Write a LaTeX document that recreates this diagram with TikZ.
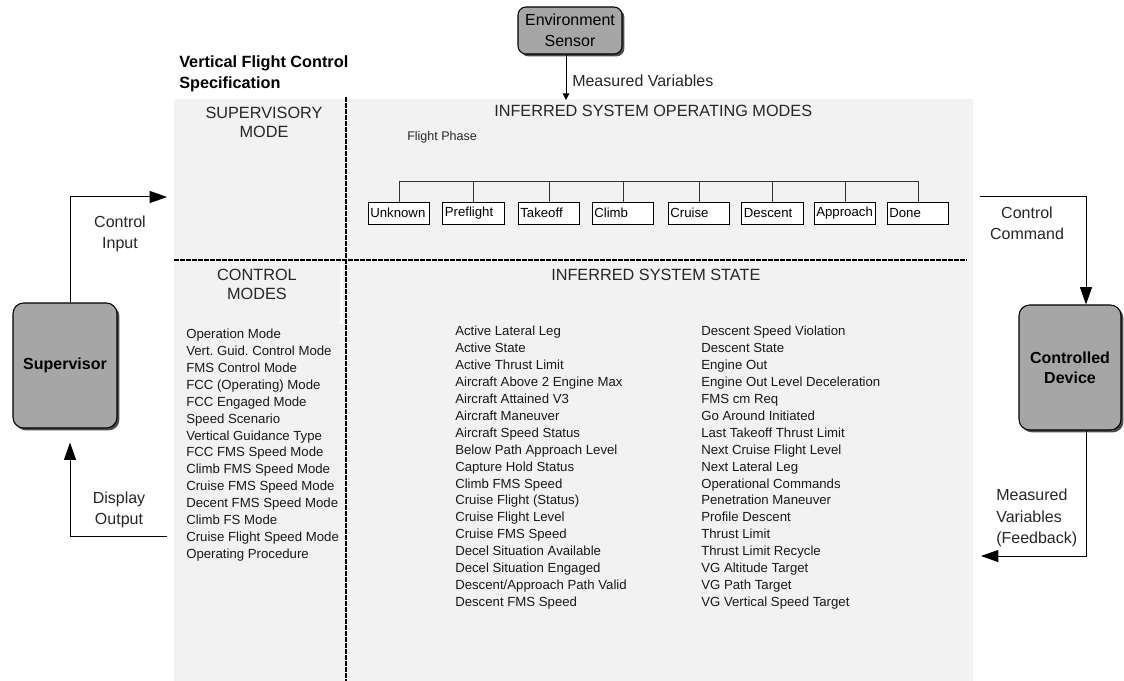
\documentclass[tikz,border=0pt]{standalone}
\usepackage{fontspec}
\setmainfont{Liberation Sans}
\frenchspacing
\usetikzlibrary{arrows.meta,shadows}
\definecolor{panelgray}{HTML}{F2F2F2}
\definecolor{boxgray}{HTML}{A6A6A6}
\tikzset{
  actorbox/.style={draw=black, line width=0.8pt, fill=boxgray, rounded corners=8pt, align=center,
    drop shadow={shadow xshift=1.8pt, shadow yshift=-1.8pt, fill=black!70, opacity=1}},
  phasebox/.style={draw=black, line width=0.75pt, fill=white, minimum height=16.5pt, text width=43pt,
    inner xsep=1.5pt, inner ysep=0pt, align=left, font=\fontsize{9.9}{12}\selectfont},
  listitem/.style={anchor=base west, inner sep=0pt, text=black!90, font=\fontsize{9.9}{12}\selectfont},
  heading/.style={inner sep=0pt, align=center, text=black!85, font=\fontsize{12.2}{14.25}\selectfont},
  flowlabel/.style={inner sep=0pt, align=center, text=black!85, font=\fontsize{12}{16}\selectfont},
  sectionline/.style={line width=1.3pt, dash pattern=on 3.5pt off 1pt},
  bigarrow/.style={line width=0.75pt, -{Triangle[length=13pt,width=9pt]}},
  smallarrow/.style={line width=0.75pt, -{Triangle[length=5pt,width=5pt]}}
}

\begin{document}
\begin{tikzpicture}[x=0.75pt, y=-0.75pt]
		%%%%% START %%%%%
		\useasboundingbox (0,0) rectangle (1124,681);
		
		\fill[panelgray] (174,99) rectangle (973,681);
		\fill[white] (340,262) rectangle (343,324);
		\draw[sectionline] (346,97) -- (346,681);
		\draw[sectionline] (174,260) -- (967,260);
		
		\node[anchor=base west, inner sep=0pt, font=\bfseries\fontsize{12.2}{15}\selectfont] (title1) at (179,68) {Vertical Flight Control};
		\node[anchor=base west, inner sep=0pt, font=\bfseries\fontsize{12.2}{15}\selectfont] (title2) at (179,89) {Specification};
		
		\node[heading] (supmode) at (264,122) {SUPERVISORY\\MODE};
		\node[heading] (ctlmodes) at (257,284) {CONTROL\\MODES};
		\node[heading, anchor=base west] (opmodes) at (494,117) {INFERRED SYSTEM OPERATING MODES};
		\node[heading, anchor=base west] (sysstate) at (551,280) {INFERRED SYSTEM STATE};
		\node[anchor=base west, inner sep=0pt, text=black!85, font=\fontsize{9.4}{11}\selectfont] (phaselabel) at (407,140.5) {Flight Phase};
		
		% flight phase tree
		\coordinate (phasebus) at (658,182);
		\node[phasebox] (unknown) at (399,213) {Unknown};
		\node[phasebox] (preflight) at (473.5,213) {Preflight};
		\node[phasebox] (takeoff) at (549,213) {Takeoff};
		\node[phasebox] (climb) at (623,213) {Climb};
		\node[phasebox] (cruise) at (699,213) {Cruise};
		\node[phasebox] (descent) at (772.5,213) {Descent};
		\node[phasebox] (approach) at (845,213) {Approach};
		\node[phasebox] (done) at (918,213) {Done};
		\draw[line width=0.75pt, color=black!80] (unknown.north) -- (unknown.north |- phasebus) -- (done.north |- phasebus) -- (done.north);
		\draw[line width=0.75pt, color=black!80] (preflight.north) -- (preflight.north |- phasebus);
		\draw[line width=0.75pt, color=black!80] (takeoff.north) -- (takeoff.north |- phasebus);
		\draw[line width=0.75pt, color=black!80] (climb.north) -- (climb.north |- phasebus);
		\draw[line width=0.75pt, color=black!80] (cruise.north) -- (cruise.north |- phasebus);
		\draw[line width=0.75pt, color=black!80] (descent.north) -- (descent.north |- phasebus);
		\draw[line width=0.75pt, color=black!80] (approach.north) -- (approach.north |- phasebus);
		
		% control modes
		\node[listitem] (cm1) at (186,338.5) {Operation Mode};
		\node[listitem] (cm2) at (186,355.4) {Vert. Guid. Control Mode};
		\node[listitem] (cm3) at (186,372.3) {FMS Control Mode};
		\node[listitem] (cm4) at (186,389.3) {FCC (Operating) Mode};
		\node[listitem] (cm5) at (186,406.2) {FCC Engaged Mode};
		\node[listitem] (cm6) at (186,423.1) {Speed Scenario};
		\node[listitem] (cm7) at (186,440.0) {Vertical Guidance Type};
		\node[listitem] (cm8) at (186,456.9) {FCC FMS Speed Mode};
		\node[listitem] (cm9) at (186,473.9) {Climb FMS Speed Mode};
		\node[listitem] (cm10) at (186,490.8) {Cruise FMS Speed Mode};
		\node[listitem] (cm11) at (186,507.7) {Decent FMS Speed Mode};
		\node[listitem] (cm12) at (186,524.6) {Climb FS Mode};
		\node[listitem] (cm13) at (186,541.5) {Cruise Flight Speed Mode};
		\node[listitem] (cm14) at (186,558.5) {Operating Procedure};
		
		% inferred system state
		\node[listitem] (sa1) at (455,335.5) {Active Lateral Leg};
		\node[listitem] (sa2) at (455,352.4) {Active State};
		\node[listitem] (sa3) at (455,369.4) {Active Thrust Limit};
		\node[listitem] (sa4) at (455,386.3) {Aircraft Above 2 Engine Max};
		\node[listitem] (sa5) at (455,403.3) {Aircraft Attained V3};
		\node[listitem] (sa6) at (455,420.2) {Aircraft Maneuver};
		\node[listitem] (sa7) at (455,437.1) {Aircraft Speed Status};
		\node[listitem] (sa8) at (455,454.1) {Below Path Approach Level};
		\node[listitem] (sa9) at (455,471.0) {Capture Hold Status};
		\node[listitem] (sa10) at (455,488.0) {Climb FMS Speed};
		\node[listitem] (sa11) at (455,504.9) {Cruise Flight (Status)};
		\node[listitem] (sa12) at (455,521.8) {Cruise Flight Level};
		\node[listitem] (sa13) at (455,538.8) {Cruise FMS Speed};
		\node[listitem] (sa14) at (455,555.7) {Decel Situation Available};
		\node[listitem] (sa15) at (455,572.7) {Decel Situation Engaged};
		\node[listitem] (sa16) at (455,589.6) {Descent/Approach Path Valid};
		\node[listitem] (sa17) at (455,606.5) {Descent FMS Speed};
		
		\node[listitem] (sb1) at (701,335.5) {Descent Speed Violation};
		\node[listitem] (sb2) at (701,352.4) {Descent State};
		\node[listitem] (sb3) at (701,369.4) {Engine Out};
		\node[listitem] (sb4) at (701,386.3) {Engine Out Level Deceleration};
		\node[listitem] (sb5) at (701,403.3) {FMS cm Req};
		\node[listitem] (sb6) at (701,420.2) {Go Around Initiated};
		\node[listitem] (sb7) at (701,437.1) {Last Takeoff Thrust Limit};
		\node[listitem] (sb8) at (701,454.1) {Next Cruise Flight Level};
		\node[listitem] (sb9) at (701,471.0) {Next Lateral Leg};
		\node[listitem] (sb10) at (701,488.0) {Operational Commands};
		\node[listitem] (sb11) at (701,504.9) {Penetration Maneuver};
		\node[listitem] (sb12) at (701,521.8) {Profile Descent};
		\node[listitem] (sb13) at (701,538.8) {Thrust Limit};
		\node[listitem] (sb14) at (701,555.7) {Thrust Limit Recycle};
		\node[listitem] (sb15) at (701,572.7) {VG Altitude Target};
		\node[listitem] (sb16) at (701,589.6) {VG Path Target};
		\node[listitem] (sb17) at (701,606.5) {VG Vertical Speed Target};
		
		% outside actors
		\node[actorbox, rounded corners=6pt, minimum width=78pt, minimum height=35.25pt, font=\fontsize{12}{15.75}\selectfont] (envsensor) at (570,30.5) {Environment\\Sensor};
		\node[actorbox, minimum width=78pt, minimum height=93.75pt, font=\bfseries\fontsize{12}{15}\selectfont] (supervisor) at (65,365.5) {Supervisor};
		\node[actorbox, minimum width=76.5pt, minimum height=93.75pt, font=\bfseries\fontsize{12}{15}\selectfont] (device) at (1070,367.5) {Controlled\\Device};
		
		\coordinate (ctlinput) at (167,197);
		\coordinate (dispout) at (167,536);
		\coordinate (ctlcmd) at (980,197);
		\coordinate (feedback) at (981,556);
		\coordinate (measured) at (566,100);
		
		\draw[bigarrow] ([xshift=3.75pt]supervisor.north) |- (ctlinput);
		\draw[bigarrow] (dispout) -| ([xshift=3.75pt, yshift=-10.5pt]supervisor.south);
		\draw[bigarrow] (ctlcmd) -| ([xshift=12pt]device.north);
		\draw[bigarrow] ([xshift=12pt]device.south) |- (feedback);
		\draw[smallarrow] ([xshift=-3pt]envsensor.south) -- (measured);
		
		\node[flowlabel] (ctlinputlbl) at (120,234) {Control\\Input};
		\node[flowlabel] (dispoutlbl) at (119,510) {Display\\Output};
		\node[flowlabel] (ctlcmdlbl) at (1027,223) {Control\\Command};
		\node[flowlabel, align=left, anchor=west] (feedbacklbl) at (996,518) {Measured\\Variables\\(Feedback)};
		\node[anchor=base west, inner sep=0pt, text=black!85, font=\fontsize{12}{15}\selectfont] (measuredlbl) at (572,86.5) {Measured Variables};
		
		%%%%% END %%%%%
\end{tikzpicture}
\end{document}
